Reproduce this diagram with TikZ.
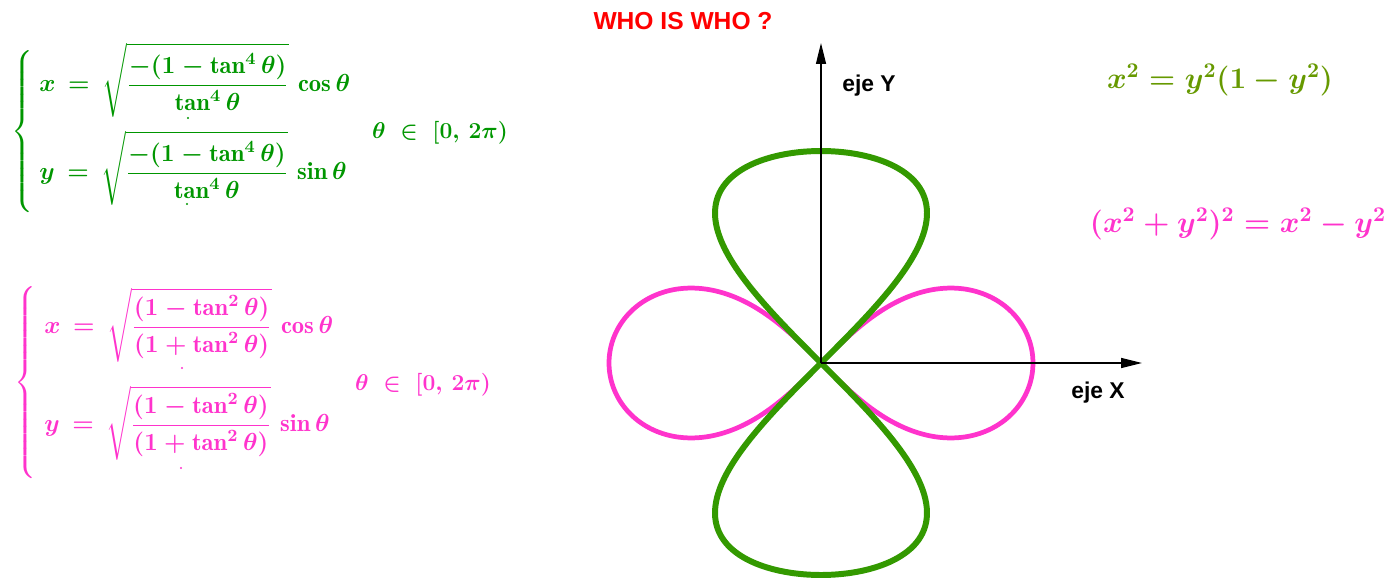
\RequirePackage{fix-cm}
\documentclass[tikz,border=0pt]{standalone}
\usepackage{amsmath,amssymb}
\usepackage{fontspec}
\usepackage{tikz}
\usepackage{xcolor}
\usetikzlibrary{arrows.meta}
\newfontfamily\arialfont{Liberation Sans}
\definecolor{leafgreen}{RGB}{51,153,0}
\definecolor{textgreen}{RGB}{0,150,0}
\definecolor{olivegreen}{RGB}{102,153,0}
\definecolor{petalpink}{RGB}{255,51,204}
\newcommand{\bracetall}[1]{\vcenter{\hrule height #1 width 0pt}}
\tikzset{
  axislabel/.style={font=\arialfont\bfseries\fontsize{13}{15}\selectfont,anchor=west},
  bigeq/.style={font=\boldmath\fontsize{17}{20}\selectfont},
  smalleq/.style={font=\boldmath\fontsize{14}{17}\selectfont,anchor=west},
  rangeeq/.style={font=\boldmath\fontsize{13}{16}\selectfont},
  axisline/.style={line width=0.75pt,-{Triangle[length=0.42cm,width=0.2cm]}}
}

\begin{document}
\begin{tikzpicture}[x=0.02cm,y=-0.02cm,every node/.style={inner sep=0pt}]
\useasboundingbox (0,0) rectangle (1396,581);
% title and axes
\node[font=\arialfont\bfseries\fontsize{14}{16}\selectfont,text=red] (title) at (683,21) {WHO IS WHO ?};
\coordinate (o) at (821,363);
\coordinate (xend) at (1142,363);
\coordinate (yend) at (821,43);
\draw[line width=2.7pt,petalpink,variable=\t,domain=0:360,samples=240,smooth]
  plot ({821+212*cos(\t)/(1+sin(\t)^2)},{363-212*sin(\t)*cos(\t)/(1+sin(\t)^2)});
\draw[line width=3.4pt,leafgreen,variable=\t,domain=0:360,samples=240,smooth]
  plot ({821+106*sin(2*\t)},{363-212*sin(\t)});
\draw[axisline] (o) -- (xend);
\draw[axisline] (o) -- (yend);
\node[axislabel] (ylab) at (842,86) {eje Y};
\node[axislabel] (xlab) at (1071,393) {eje X};
% cartesian equations
\node[bigeq,text=olivegreen] (eqgreen) at (1220,80) {$x^2=y^2(1-y^2)$};
\node[bigeq,text=petalpink] (eqpink) at (1238,224) {$(x^2+y^2)^2=x^2-y^2$};
% green system
\node[smalleq,text=textgreen] (bracegreen) at (11,131.5) {$\left\{\bracetall{97pt}\right.$};
\node[smalleq,text=textgreen] (gx) at (39,80)
  {$x \,=\, \sqrt{\dfrac{-(1-\tan^4\theta)}{\tan^4\theta}}\,\cos\theta$};
\node[smalleq,text=textgreen] (gy) at (39,168)
  {$y \,=\, \sqrt{\dfrac{-(1-\tan^4\theta)}{\tan^4\theta}}\,\sin\theta$};
\node[rangeeq,text=textgreen] (rangegreen) at (440,133) {$\theta\;\in\;[0,\,2\pi)$};
\fill[textgreen] (188,118) circle (0.7pt);
\fill[textgreen] (187,204) circle (0.7pt);
% pink system
\node[smalleq,text=petalpink] (bracepink) at (14,382.5) {$\left\{\bracetall{114pt}\right.$};
\node[smalleq,text=petalpink] (px) at (44,325)
  {$x \,=\, \sqrt{\dfrac{(1-\tan^2\theta)}{(1+\tan^2\theta)}}\,\cos\theta$};
\node[smalleq,text=petalpink] (py) at (44,423)
  {$y \,=\, \sqrt{\dfrac{(1-\tan^2\theta)}{(1+\tan^2\theta)}}\,\sin\theta$};
\node[rangeeq,text=petalpink] (rangepink) at (423,385) {$\theta\;\in\;[0,\,2\pi)$};
\fill[petalpink] (182,368) circle (0.7pt);
\fill[petalpink] (181,468) circle (0.7pt);
\end{tikzpicture}
\end{document}
